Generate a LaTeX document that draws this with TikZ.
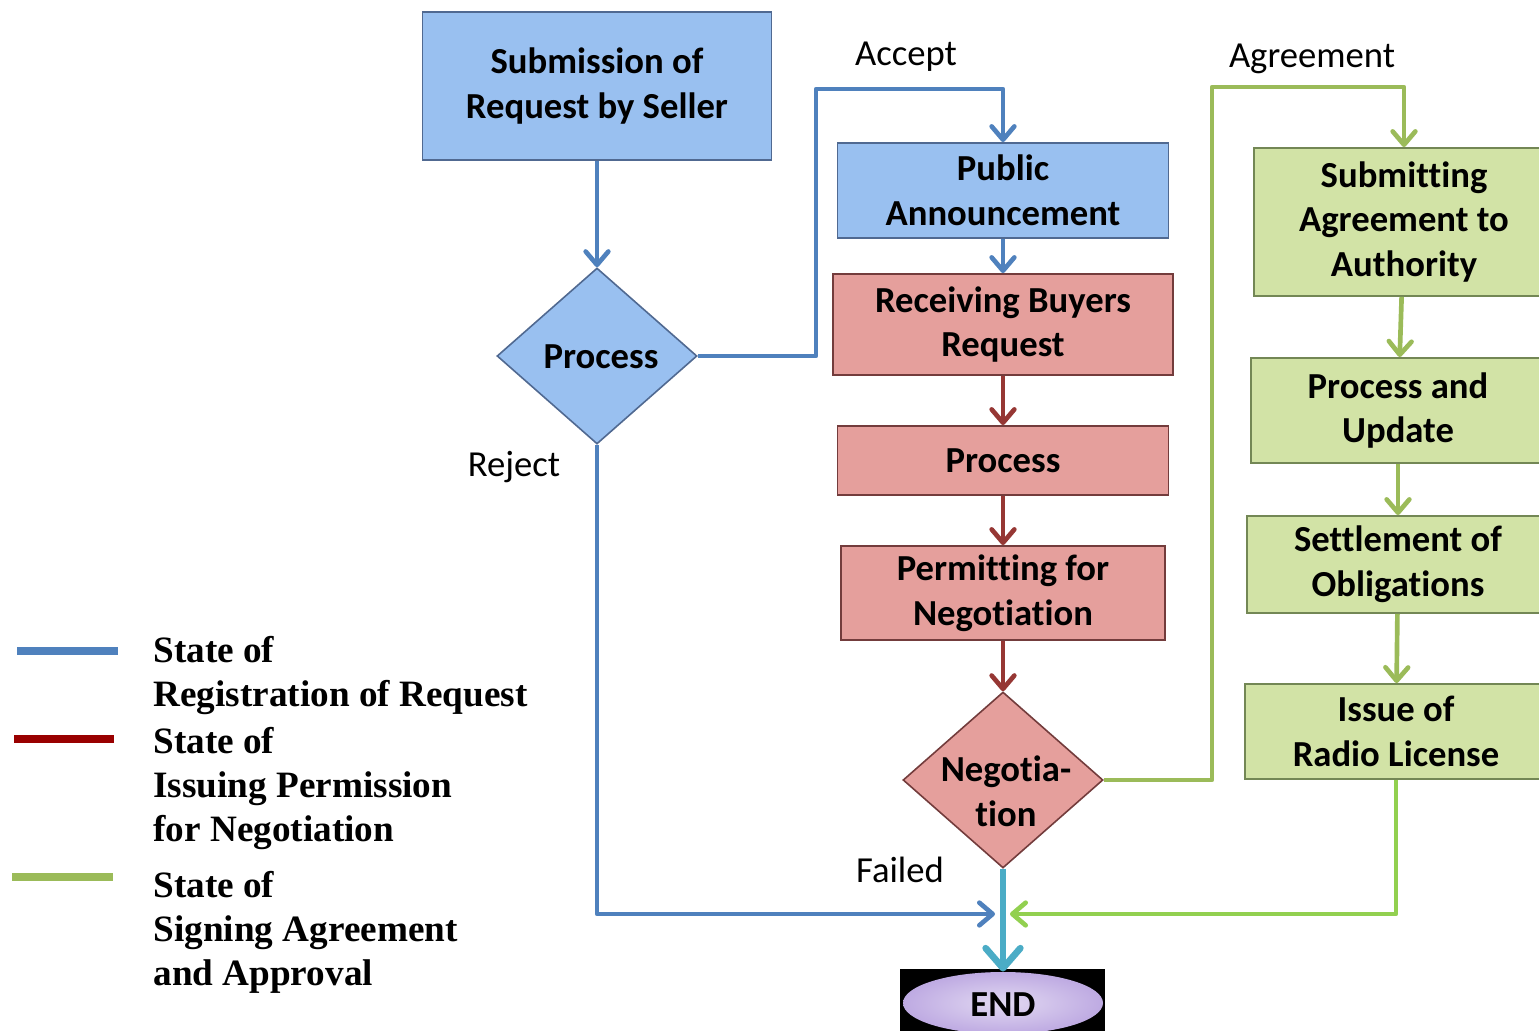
\documentclass[tikz,border=0pt]{standalone}
\usepackage{fontspec}
\setmainfont{Carlito}[Ligatures={NoCommon}]
\newfontfamily\legendfont{Liberation Serif}
\usetikzlibrary{shapes.geometric,arrows.meta}

\definecolor{fillblue}{RGB}{153,192,240}
\definecolor{edgeblue}{RGB}{80,105,145}
\definecolor{fillpink}{RGB}{229,159,156}
\definecolor{edgepink}{RGB}{115,60,60}
\definecolor{fillgreen}{RGB}{210,227,166}
\definecolor{edgegreen}{RGB}{115,135,85}
\definecolor{lineblue}{RGB}{79,129,189}
\definecolor{linered}{RGB}{150,55,52}
\definecolor{linegreen}{RGB}{155,187,89}
\definecolor{linelime}{RGB}{146,208,80}
\definecolor{lineteal}{RGB}{75,172,198}
\definecolor{legendred}{RGB}{153,0,0}
\definecolor{fillend}{RGB}{190,170,226}

\tikzset{every picture/.style={line width=0.75pt},
  boxfont/.style={font=\fontsize{27.5}{33.5}\selectfont\bfseries},
  flowbox/.style={boxfont, draw, line width=1.4pt, align=center, inner sep=0pt},
  bluebox/.style={flowbox, fill=fillblue, draw=edgeblue},
  pinkbox/.style={flowbox, fill=fillpink, draw=edgepink},
  greenbox/.style={flowbox, fill=fillgreen, draw=edgegreen},
  decision/.style={diamond, draw, line width=1.2pt, minimum width=150pt, minimum height=132pt, inner sep=0pt},
  boxtext/.style={boxfont, align=center, inner sep=0pt},
  flowlabel/.style={font=\fontsize{27.5}{33.5}\selectfont, inner sep=0pt},
  legendtext/.style={font=\legendfont\fontsize{27.9}{33}\selectfont\bfseries, align=left, anchor=west, inner sep=0pt},
  flow/.style={line width=3.5pt, line join=round, -{Straight Barb[length=10pt,width=17pt,round]}},
  swatch/.style={line width=6pt}
}

\begin{document}
\begin{tikzpicture}[x=0.75pt,y=0.75pt,yscale=-1,xscale=1]
	\useasboundingbox (0,0) rectangle (1539,1031);

	%Shape: Rectangle
	\node[bluebox, minimum width=261.75pt, minimum height=111pt] (sub) at (597,86) {Submission of\\Request by Seller};
	%Shape: Diamond
	\node[decision, fill=fillblue, draw=edgeblue] (proc1) at (597,356) {};
	\node[boxtext] (proc1txt) at (601,357) {Process};
	%Shape: Rectangle
	\node[bluebox, minimum width=248.25pt, minimum height=71.25pt] (pub) at (1003,190.5) {Public\\Announcement};
	%Shape: Rectangle
	\node[pinkbox, minimum width=255pt, minimum height=75.75pt] (recv) at (1003,324.5) {Receiving Buyers\\Request};
	%Shape: Rectangle
	\node[pinkbox, minimum width=248.25pt, minimum height=51.75pt] (proc2) at (1003,460.5) {Process};
	%Shape: Rectangle
	\node[pinkbox, minimum width=243pt, minimum height=70.5pt] (perm) at (1003,593) {Permitting for\\Negotiation};
	%Shape: Diamond
	\node[decision, fill=fillpink, draw=edgepink] (neg) at (1003,780) {};
	\node[boxtext] (negtxt) at (1006,791) {Negotia-\\tion};
	%Shape: End
	\node[fill=black, minimum width=153.75pt, minimum height=46.5pt, inner sep=0pt] (endbg) at (1002.5,1000) {};
	\node[ellipse, inner color=fillend!45!white, outer color=fillend, minimum width=150pt, minimum height=46.5pt, inner sep=0pt] (endov) at (1003,1003) {};
	\node[boxtext] (endtxt) at (1003,1005) {END};
	%Shape: Rectangle
	\node[greenbox, minimum width=225pt, minimum height=111pt] (subm) at (1404,222) {Submitting\\Agreement to\\Authority};
	%Shape: Rectangle
	\node[greenbox, minimum width=220.5pt, minimum height=78.75pt] (upd) at (1398,410.5) {Process and\\Update};
	%Shape: Rectangle
	\node[greenbox, minimum width=226.5pt, minimum height=72.75pt] (settle) at (1398,564.5) {Settlement of\\Obligations};
	%Shape: Rectangle
	\node[greenbox, minimum width=226.5pt, minimum height=71.25pt] (issue) at (1396,731.5) {Issue of\\Radio License};

	%Corners
	\coordinate (acc) at (816,89);
	\coordinate (agr) at (1212,87);
	\coordinate (rejend) at (995,914);
	\coordinate (licend) at (1010,914);

	%Straight Lines
	\draw[flow, lineblue] (sub) -- (proc1);
	\draw[flow, lineblue] (proc1.east) -| (acc) -| (pub.north);
	\draw[flow, lineblue] (proc1.south) |- (rejend);
	\draw[flow, lineblue] (pub) -- (recv);
	\draw[flow, linered] (recv) -- (proc2);
	\draw[flow, linered] (proc2) -- (perm);
	\draw[flow, linered] (perm) -- (neg.north);
	\draw[flow, linegreen] (neg.east) -| (agr) -| (subm.north);
	\draw[flow, linegreen] (subm) -- (upd);
	\draw[flow, linegreen] (upd) -- (settle);
	\draw[flow, linegreen] (settle) -- (issue);
	\draw[flow, linelime] (issue.south) |- (licend);
	\draw[lineteal, line width=5pt, -{Straight Barb[length=15pt,width=26pt,round]}] (neg.south) -- (endov.north);

	% Text Node
	\node[flowlabel] (lblacc) at (906,57) {Accept};
	% Text Node
	\node[flowlabel] (lblrej) at (514,467) {Reject};
	% Text Node
	\node[flowlabel] (lblfail) at (900,870) {Failed};
	% Text Node
	\node[flowlabel] (lblagr) at (1312,59) {Agreement};

	%Legend
	\draw[swatch, lineblue] (17,651) -- (118,651);
	\draw[swatch, legendred] (14,739) -- (114,739);
	\draw[swatch, linegreen] (12,877) -- (113,877);
	% Text Node
	\node[legendtext] (leg1) at (153,676) {State of\\Registration of Request};
	% Text Node
	\node[legendtext] (leg2) at (153,789) {State of\\Issuing Permission\\for Negotiation};
	% Text Node
	\node[legendtext] (leg3) at (153,932) {State of\\Signing Agreement\\and Approval};

\end{tikzpicture}
\end{document}
